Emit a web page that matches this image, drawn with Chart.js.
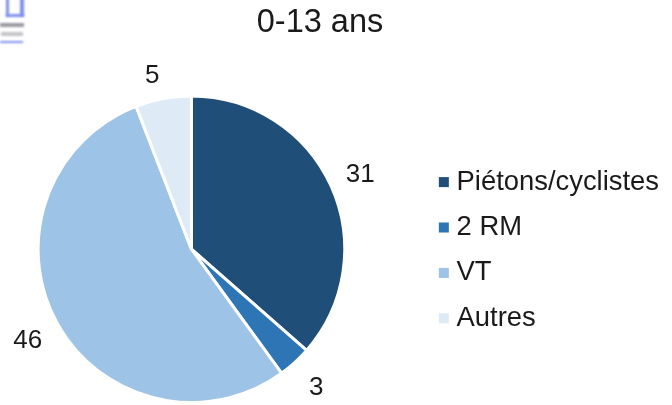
<!DOCTYPE html>
<html><head><meta charset="utf-8">
<style>html,body{margin:0;padding:0;background:#fff}#w{position:relative;width:672px;height:405px}</style>
<script src="https://cdn.jsdelivr.net/npm/chart.js@4"></script></head>
<body><div id="w"><canvas id="c" width="672" height="405"></canvas></div>
<script>
const title = "0-13 ans";
const categories = ["Piétons/cyclistes","2 RM","VT","Autres"];
const values = [31,3,46,5];
const colors = ["#1F4E79","#2E75B6","#9DC3E6","#DEEBF7"];
const labelGaps = [32,32,33,26];
const labelTurns = [0,0,0,-2];
const font = "Liberation Sans, Arial, sans-serif";
const decor = {
  id:"decor",
  afterLayout(chart){
    // pie sits left of the plot box, title left of its box centre, legend rows a little lower
    const a=chart.chartArea;
    a.left-=38; a.width+=38;
    chart.titleBlock.left-=14.5; chart.titleBlock.right-=14.5;
    chart.legend.top+=2;
  },
  afterDraw(chart){
    const {ctx} = chart;
    const meta = chart.getDatasetMeta(0);
    ctx.save();
    ctx.font = "26px "+font;
    ctx.fillStyle="#1a1a1a";
    ctx.textAlign="center";ctx.textBaseline="middle";
    meta.data.forEach((arc,i)=>{
      const mid=(arc.startAngle+arc.endAngle)/2+labelTurns[i]*Math.PI/180;
      const r=arc.outerRadius+labelGaps[i];
      ctx.fillText(String(values[i]),arc.x+Math.cos(mid)*r,arc.y+Math.sin(mid)*r+2);
    });
    // legend squares: 10px wide, placed on the library's own legend rows
    chart.legend.legendHitBoxes.forEach((b,i)=>{
      ctx.fillStyle=colors[i];
      ctx.fillRect(b.left,b.top+b.height/2-5,10,10);
    });
    // small logo in the top-left corner
    ctx.filter="blur(0.8px)";
    ctx.fillStyle="#7f8ff0";
    ctx.fillRect(6,-2,3,18);ctx.fillRect(20,-2,4,18);ctx.fillRect(6,14,18,3);
    ctx.fillRect(0,41,23,2);
    ctx.fillStyle="#9a9aa0";
    ctx.fillRect(0,23,24,4);
    ctx.fillStyle="#c4c4c8";
    ctx.fillRect(1,32,22,4);
    ctx.restore();
  }
};
new Chart(document.getElementById("c"),{
  type:"pie",
  data:{labels:categories,datasets:[{data:values,backgroundColor:colors,borderColor:"#fff",borderWidth:3}]},
  options:{
    responsive:false,animation:false,
    layout:{padding:{left:0,right:3,top:1,bottom:1}},
    plugins:{
      title:{display:true,text:title,color:"#1a1a1a",font:{family:font,size:32.5,weight:"normal"},padding:{top:3,bottom:51.4}},
      legend:{position:"right",fullSize:false,labels:{boxWidth:4,boxHeight:10,color:"#1a1a1a",font:{family:font,size:27.4},padding:18}},
      tooltip:{enabled:false}
    }
  },
  plugins:[decor]
});
</script></body></html>
